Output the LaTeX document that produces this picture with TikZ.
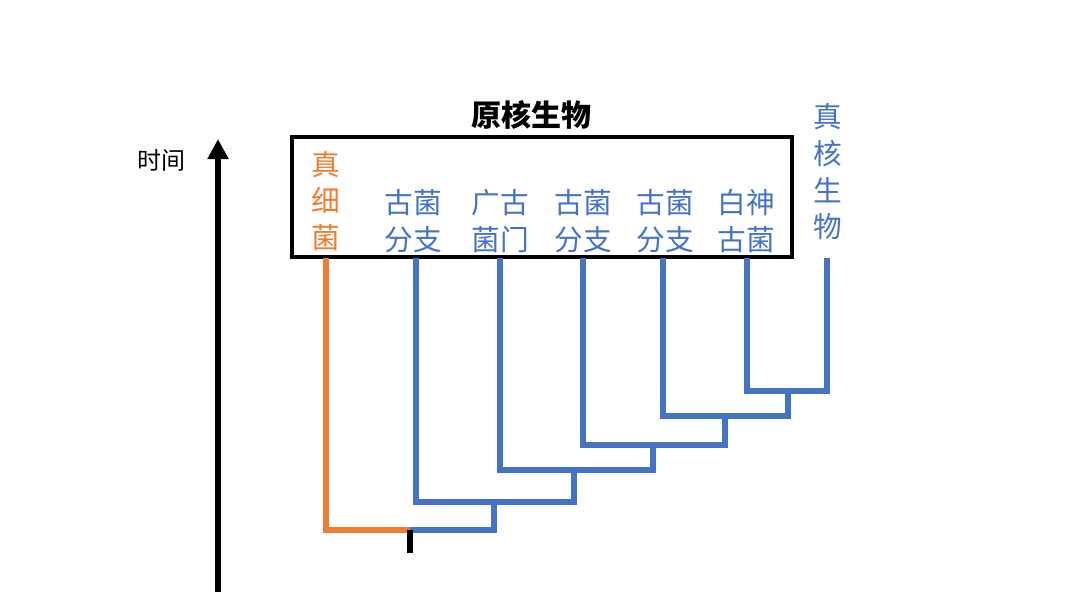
\documentclass[tikz,border=0pt]{standalone}
\usepackage{fontspec}
\usepackage{tikz}
\usepackage{xcolor}
\usetikzlibrary{arrows.meta, positioning}
\newfontfamily\cjk{Noto Sans CJK SC}
\definecolor{bactorange}{HTML}{ED7D31}
\definecolor{archblue}{HTML}{4472C4}

\begin{document}
\begin{tikzpicture}[
  x=0.75pt, y=-0.75pt,
  frame/.style={rectangle, draw=black, line width=2.3pt, minimum width=375pt, minimum height=90pt, inner sep=0pt},
  lbl/.style={font=\cjk\fontsize{21.5}{27.5}\selectfont, align=center, inner sep=0pt},
  bactlbl/.style={lbl, text=bactorange},
  archlbl/.style={lbl, text=archblue},
  bactline/.style={draw=bactorange, line width=3.9pt, line join=miter},
  archline/.style={draw=archblue, line width=3.9pt, line join=miter},
  timearrow/.style={draw=black, line width=5.2pt, -{Triangle[length=15pt, width=15pt]}}
]
  \useasboundingbox (0,0) rectangle (1080,608);

  % box and titles
  \node [frame] (box) at (542,197) {};
  \node [font=\cjk\bfseries\fontsize{22.5}{27}\selectfont, inner sep=0pt] (title) at (531,115) {原核生物};
  \node [font=\cjk\fontsize{18}{22}\selectfont, inner sep=0pt] (time) at (161,160) {时间};

  % time axis
  \coordinate (tbottom) at (218,592);
  \coordinate (ttop) at (218,139);
  \draw [timearrow] (tbottom) -- (ttop);

  % leaf labels
  \node [bactlbl] (bact) at (326,201) {真\\细\\菌};
  \node [archlbl] (arch1) at (413,221) {古菌\\分支};
  \node [archlbl] (arch2) at (500,221) {广古\\菌门};
  \node [archlbl] (arch3) at (583,221) {古菌\\分支};
  \node [archlbl] (arch4) at (665,221) {古菌\\分支};
  \node [archlbl] (arch5) at (746,221) {白神\\古菌};
  \node [archlbl] (euk) at (828,172) {真\\核\\生\\物};

  % tree
  \coordinate (t1) at (326,258);
  \coordinate (t2) at (416,258);
  \coordinate (t3) at (500,258);
  \coordinate (t4) at (583,258);
  \coordinate (t5) at (663,258);
  \coordinate (t6) at (747,258);
  \coordinate (t7) at (827,258);
  \coordinate (root) at (410,530);
  \coordinate (base) at (410,553);
  \coordinate (a1) at (494,502);
  \coordinate (a2) at (574,470);
  \coordinate (a3) at (653,445);
  \coordinate (a4) at (725,416);
  \coordinate (a5) at (788,391);

  \draw [bactline] (t1) |- (root);
  \draw [archline] (root) -| (a1);
  \draw [archline] (t2) |- (a1) -| (a2);
  \draw [archline] (t3) |- (a2) -| (a3);
  \draw [archline] (t4) |- (a3) -| (a4);
  \draw [archline] (t5) |- (a4) -| (a5);
  \draw [archline] (t6) |- (a5) -| (t7);
  \draw [draw=black, line width=3.9pt] (root) -- (base);
\end{tikzpicture}
\end{document}
